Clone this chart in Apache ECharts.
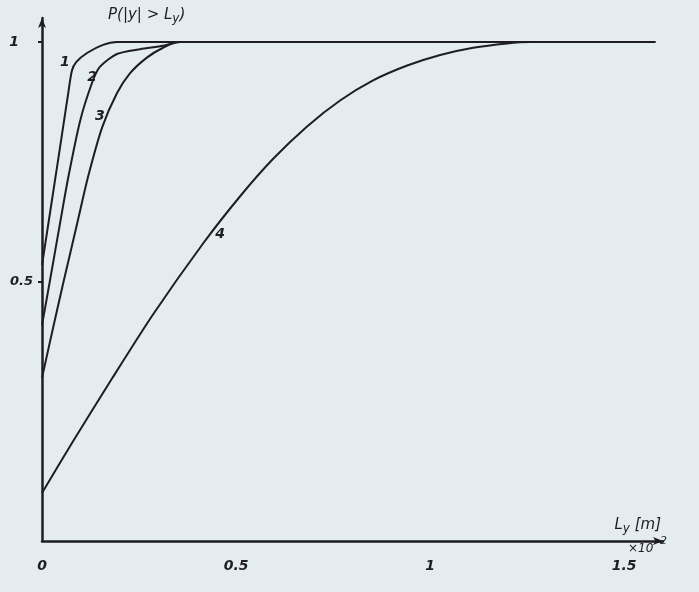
<!DOCTYPE html>
<html>
<head>
<meta charset="utf-8">
<script src="https://cdn.jsdelivr.net/npm/echarts@6/dist/echarts.min.js"></script>
<style>
html,body{margin:0;padding:0;background:#e4ebf1;}
#chart{width:699px;height:592px;}
</style>
</head>
<body>
<div id="chart"></div>
<script>
// x in units of 10^-2 m
const xTicks = [0, 0.5, 1, 1.5];
const yTicks = [0.5, 1];
const curveNames = ['1', '2', '3', '4'];

const curve1X = [0, 0.018, 0.036, 0.052, 0.067, 0.077, 0.088, 0.116, 0.157, 0.193, 1.58];
const curve1Y = [0.535, 0.630, 0.725, 0.810, 0.890, 0.940, 0.958, 0.977, 0.994, 1.0, 1.0];

const curve2X = [0, 0.021, 0.046, 0.067, 0.098, 0.129, 0.149, 0.193, 0.253, 0.312, 0.356, 1.58];
const curve2Y = [0.410, 0.505, 0.620, 0.715, 0.835, 0.915, 0.948, 0.975, 0.985, 0.992, 1.0, 1.0];

const curve3X = [0, 0.026, 0.054, 0.093, 0.119, 0.155, 0.193, 0.227, 0.271, 0.312, 0.351, 1.58];
const curve3Y = [0.300, 0.395, 0.495, 0.630, 0.720, 0.822, 0.893, 0.935, 0.968, 0.988, 1.0, 1.0];

const curve4X = [0, 0.080, 0.180, 0.286, 0.415, 0.510, 0.595, 0.683, 0.768, 0.853, 0.941, 1.026, 1.111, 1.198, 1.258, 1.58];
const curve4Y = [0.060, 0.168, 0.298, 0.432, 0.580, 0.678, 0.756, 0.824, 0.878, 0.920, 0.951, 0.973, 0.988, 0.997, 1.0, 1.0];

const curvesX = [curve1X, curve2X, curve3X, curve4X];
const curvesY = [curve1Y, curve2Y, curve3Y, curve4Y];
const labelAt = [[0.059, 0.958], [0.129, 0.927], [0.149, 0.844], [0.459, 0.600]];

const ink = '#1e1e22';
const font = 'DejaVu Sans';

const chart = echarts.init(document.getElementById('chart'));

const series = curvesX.map((xs, i) => ({
  type: 'line',
  name: curveNames[i],
  data: xs.map((x, j) => [x, curvesY[i][j]]),
  showSymbol: false,
  smooth: 0.25,
  lineStyle: {color: ink, width: 2},
  z: 3,
  markPoint: {
    symbol: 'circle',
    symbolSize: 0,
    silent: true,
    label: {
      show: true, position: 'inside', formatter: curveNames[i],
      color: ink, fontFamily: font, fontStyle: 'italic', fontSize: 14, fontWeight: 'bold'
    },
    data: [{coord: labelAt[i], value: curveNames[i]}]
  }
}));

chart.setOption({
  backgroundColor: '#e4ebf1',
  animation: false,
  grid: {left: 42, right: 36, top: 18, bottom: 51, containLabel: false},
  xAxis: {
    type: 'value',
    min: 0,
    max: 1.6,
    interval: 0.5,
    axisLine: {onZero: false, lineStyle: {color: ink, width: 2.5}, symbol: ['none', 'arrow'], symbolSize: [6, 10]},
    axisTick: {show: false},
    splitLine: {show: false},
    axisLabel: {
      customValues: xTicks,
      formatter: v => String(v),
      margin: 18,
      color: ink, fontFamily: font, fontStyle: 'italic', fontSize: 14, fontWeight: 'bold'
    },
    name: '{l|L}{s|y} [m]',
    nameLocation: 'end',
    nameGap: -2,
    nameTextStyle: {
      align: 'right', verticalAlign: 'bottom', padding: [0, 0, 6, 0],
      color: ink, fontFamily: font, fontStyle: 'italic', fontSize: 15,
      rich: {
        l: {fontFamily: font, fontStyle: 'italic', fontSize: 15, color: ink},
        s: {fontFamily: font, fontStyle: 'italic', fontSize: 12, color: ink, padding: [8, 0, 0, 0]}
      }
    }
  },
  yAxis: {
    type: 'value',
    min: -0.04,
    max: 1.05,
    axisLine: {show: true, lineStyle: {color: ink, width: 2.5}, symbol: ['none', 'arrow'], symbolSize: [6, 10]},
    axisTick: {show: true, customValues: yTicks, length: 4, lineStyle: {color: ink, width: 2}},
    splitLine: {show: false},
    axisLabel: {
      customValues: yTicks,
      formatter: v => (v === 1 ? '{p|1}' : '0.5'),
      margin: 9,
      color: ink, fontFamily: font, fontStyle: 'italic', fontSize: 13, fontWeight: 'bold',
      rich: {p: {padding: [0, 14, 0, 0], fontFamily: font, fontStyle: 'italic', fontWeight: 'bold', fontSize: 14, color: ink}}
    },
    name: 'P(|y| > {s|L}{t|y})',
    nameLocation: 'end',
    nameGap: 3,
    nameTextStyle: {
      align: 'left', verticalAlign: 'middle', padding: [0, 0, 0, 66],
      color: ink, fontFamily: font, fontStyle: 'italic', fontSize: 15,
      rich: {
        s: {fontFamily: font, fontStyle: 'italic', fontSize: 15, color: ink},
        t: {fontFamily: font, fontStyle: 'italic', fontSize: 12, color: ink, padding: [8, 0, 0, 0]}
      }
    }
  },
  graphic: [
    {type: 'text', left: 628, top: 543,
     style: {text: '×10', fontFamily: font, fontStyle: 'italic', fontSize: 12, fill: ink}},
    {type: 'text', left: 656, top: 536,
     style: {text: '-2', fontFamily: font, fontStyle: 'italic', fontSize: 11, fill: ink}}
  ],
  series: series
});
</script>
</body>
</html>
